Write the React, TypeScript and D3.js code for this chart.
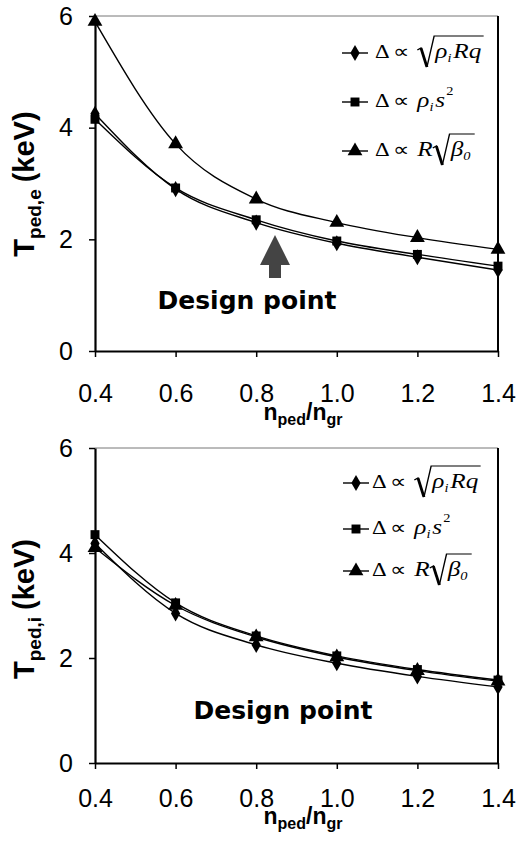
import React, { useRef, useEffect } from 'react'
import * as d3 from 'd3'

const xValues = [0.4, 0.6, 0.8, 1.0, 1.2, 1.4]
const xTicks = ['0.4', '0.6', '0.8', '1.0', '1.2', '1.4']
const yTicks = [0, 2, 4, 6]

// electron pedestal temperature (keV)
const eDiamond = [4.25, 2.9, 2.3, 1.93, 1.68, 1.45]
const eSquare = [4.15, 2.92, 2.35, 1.97, 1.73, 1.52]
const eTriangle = [5.9, 3.71, 2.72, 2.3, 2.03, 1.82]

// ion pedestal temperature (keV)
const iDiamond = [4.18, 2.85, 2.25, 1.9, 1.65, 1.45]
const iSquare = [4.35, 3.05, 2.42, 2.04, 1.78, 1.58]
const iTriangle = [4.1, 3.0, 2.4, 2.02, 1.76, 1.56]

// legend formulas, split into pieces: [text, kind]
const legendPieces = [
  [['Δ', 'n'], ['∝', 'n'], ['', 'root'], ['ρ', 'i'], ['i', 'sub'], ['Rq', 'i']],
  [['Δ', 'n'], ['∝', 'n'], ['ρ', 'i'], ['i', 'sub'], ['s', 'i'], ['2', 'sup']],
  [['Δ', 'n'], ['∝', 'n'], ['R', 'i'], ['', 'root'], ['β', 'i'], ['0', 'sub']],
]

const sans = '"Liberation Sans", Arial, sans-serif'
const serif = '"Liberation Serif", "Times New Roman", serif'

const App = () => {
  const container = useRef(null)

  useEffect(() => {
    const svg = d3.select(container.current)
    svg.selectAll('*').remove()

    const panels = [
      {
        top: 16, bottom: 351, sub: 'ped,e', series: [eDiamond, eSquare, eTriangle],
        legendY: [53, 102, 151], legendX: 342, textX: 375, tickPad: 27, titleY: 420, yTitleY: 184,
        design: [247, 309], arrow: true,
      },
      {
        top: 448, bottom: 763, sub: 'ped,i', series: [iDiamond, iSquare, iTriangle],
        legendY: [483, 529, 571], legendX: 343, textX: 372, tickPad: 20, titleY: 824, yTitleY: 609,
        design: [283, 719], arrow: false,
      },
    ]

    const symbols = [d3.symbolDiamond, d3.symbolSquare, d3.symbolTriangle]
    const symSize = [75, 80, 95]

    panels.forEach(p => {
      const x = d3.scaleLinear().domain([0.4, 1.4]).range([95, 498])
      const y = d3.scaleLinear().domain([0, 6]).range([p.bottom, p.top])
      const g = svg.append('g')

      // frame top + right
      g.append('line').attr('x1', 95).attr('x2', 498).attr('y1', p.top).attr('y2', p.top)
        .attr('stroke', '#777').attr('stroke-width', 1)
      g.append('line').attr('x1', 498).attr('x2', 498).attr('y1', p.top).attr('y2', p.bottom)
        .attr('stroke', '#000').attr('stroke-width', 2)

      const xAxis = d3.axisBottom(x).tickValues(xValues).tickFormat((d, i) => xTicks[i])
        .tickSize(6).tickSizeOuter(0).tickPadding(p.tickPad)
      const xg = g.append('g').attr('transform', `translate(0,${p.bottom})`).call(xAxis)
      const yAxis = d3.axisLeft(y).tickValues(yTicks).tickFormat(d3.format('d'))
        .tickSize(6).tickSizeOuter(0).tickPadding(16)
      const yg = g.append('g').attr('transform', 'translate(95,0)').call(yAxis)
      ;[xg, yg].forEach(a => {
        a.select('.domain').attr('stroke-width', 2.2)
        a.selectAll('.tick line').attr('stroke-width', 1.5)
        a.selectAll('.tick text').style('font-family', sans)
          .style('font-size', '25px').attr('fill', '#000')
      })

      // series
      const line = d3.line<number>().x((d, i) => x(xValues[i])).y(d => y(d)).curve(d3.curveMonotoneX)
      p.series.forEach((s, k) => {
        g.append('path').attr('d', line(s)).attr('fill', 'none').attr('stroke', '#000').attr('stroke-width', 1.4)
        g.selectAll(null).data(s).enter().append('path')
          .attr('d', d3.symbol().type(symbols[k]).size(symSize[k])())
          .attr('transform', (d, i) => `translate(${x(xValues[i])},${y(d)})`)
          .attr('fill', '#000')
      })

      // axis titles
      const xt = g.append('text').attr('x', 303).attr('y', p.titleY).attr('text-anchor', 'middle')
        .style('font-family', sans).style('font-weight', 700).style('font-size', '23px')
      xt.append('tspan').text('n')
      xt.append('tspan').text('ped').attr('dy', 5).style('font-size', '16px')
      xt.append('tspan').text('/n').attr('dy', -5)
      xt.append('tspan').text('gr').attr('dy', 5).style('font-size', '16px')

      const yt = g.append('text').attr('transform', `translate(34,${p.yTitleY}) rotate(-90)`).attr('text-anchor', 'middle')
        .style('font-family', sans).style('font-weight', 700).style('font-size', '29px')
      yt.append('tspan').text('T')
      yt.append('tspan').text(p.sub).attr('dy', 7).style('font-size', '19px')
      yt.append('tspan').text('(keV)').attr('dy', -7).attr('dx', 7)

      // design point
      g.append('text').attr('x', p.design[0]).attr('y', p.design[1]).attr('text-anchor', 'middle')
        .style('font-family', '"DejaVu Sans", Verdana, sans-serif').style('font-weight', 700).style('font-size', '25px')
        .text('Design point')
      if (p.arrow) {
        g.append('path').attr('d', 'M275,235 L290,265 L281,265 L281,278 L269,278 L269,265 L260,265 Z')
          .attr('fill', '#444')
      }

      // legend
      legendPieces.forEach((pieces, k) => {
        const ly = p.legendY[k]
        g.append('line').attr('x1', p.legendX).attr('x2', p.legendX + 26).attr('y1', ly).attr('y2', ly)
          .attr('stroke', '#000').attr('stroke-width', 1.4)
        g.append('path').attr('d', d3.symbol().type(symbols[k]).size(symSize[k])())
          .attr('transform', `translate(${p.legendX + 13},${ly})`).attr('fill', '#000')
        const lg = g.append('g').attr('transform', `translate(${p.textX},0) scale(1.2,1)`)
        const base = ly + 5
        let cx = 0
        let rootStart = -1
        pieces.forEach(([txt, kind], j) => {
          if (kind === 'root') {
            rootStart = cx
            cx += 15
            return
          }
          const t = lg.append('text').attr('x', cx).attr('y', base).style('font-family', serif).text(txt)
          if (kind === 'n') t.style('font-size', '19px')
          if (kind === 'i') t.style('font-size', '21px').style('font-style', 'italic')
          if (kind === 'sub') t.style('font-size', '12px').style('font-style', 'italic').attr('y', base + 4)
          if (kind === 'sup') t.style('font-size', '12px').attr('y', base - 12).attr('x', cx + 1)
          const w = (t.node() as SVGTextElement).getComputedTextLength()
          cx += w
          if (j === 0) cx += 2.5
          else if (j === 1) cx += 7
          else if (kind === 'sub') cx += 1.5
        })
        if (rootStart >= 0) {
          const r = rootStart
          lg.append('path')
            .attr('d', `M${r},${base - 8} L${r + 3},${base - 10} L${r + 8},${base + 9} L${r + 14},${base - 22} H${cx + 2}`)
            .attr('fill', 'none').attr('stroke', '#000').attr('stroke-width', 1.2)
          lg.append('line').attr('x1', r + 3).attr('y1', base - 10).attr('x2', r + 8).attr('y2', base + 9)
            .attr('stroke', '#000').attr('stroke-width', 2.4)
        }
      })
    })
  }, [])

  return (
    <svg ref={container} width={531} height={846}
      style={{ position: 'absolute', left: 0, top: 0, background: '#fff' }} />
  )
}

export default App
